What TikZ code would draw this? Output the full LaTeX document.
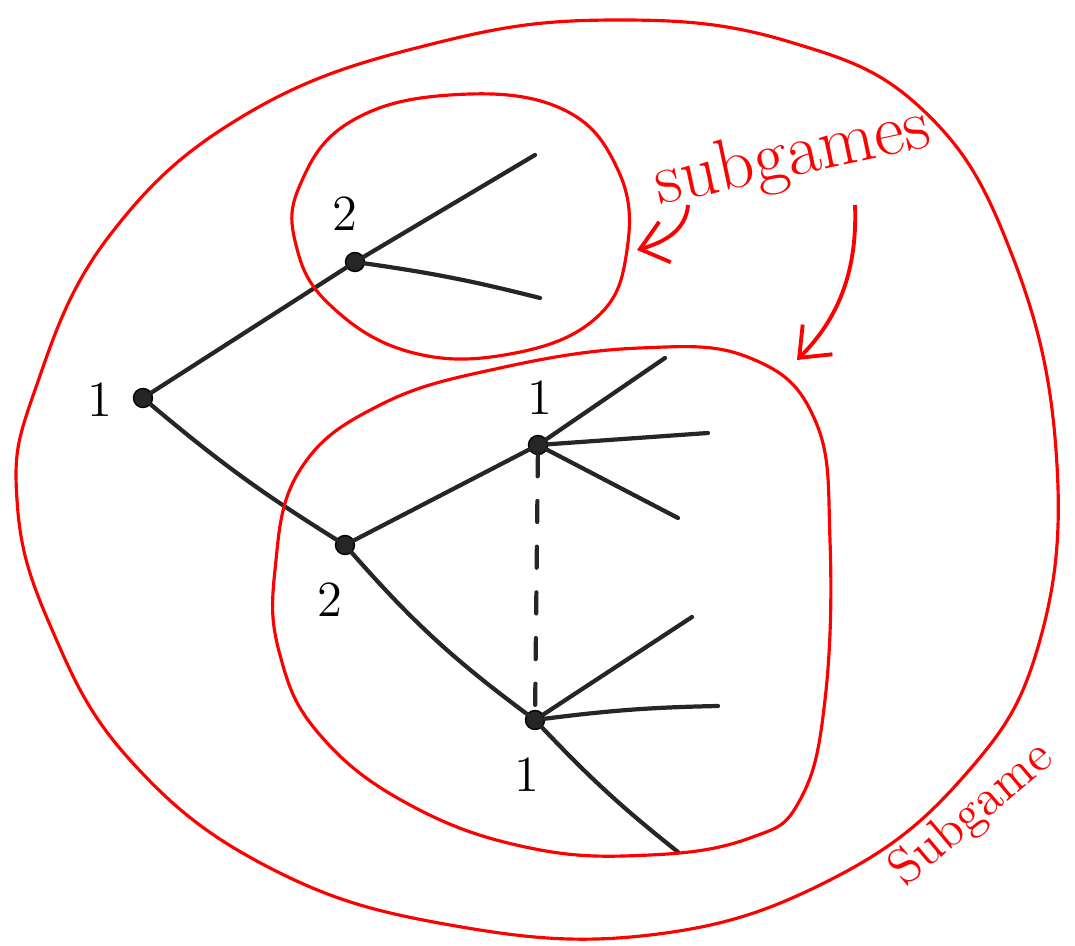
\documentclass[tikz,border=0pt]{standalone}
\usetikzlibrary{arrows.meta}
\begin{document}
\begin{tikzpicture}[x=0.01cm, y=-0.01cm,
  move/.style={black!85, line width=1.2pt, line cap=round},
  info/.style={move, dash pattern=on 6pt off 7pt},
  dot/.style={circle, fill=black!85, draw=black, inner sep=0pt, minimum size=0.19cm},
  player/.style={font=\Large},
  region/.style={red, line width=0.9pt},
  tag/.style={text=red, font=\huge},
  hint/.style={red, line width=1.1pt, -{Straight Barb[length=2.6mm, width=4.2mm]}},
]
\useasboundingbox (0,0) rectangle (1075,946);

% Decision nodes
\node[dot] (r)  at (143,398) {};
\node[dot] (u2) at (355,262) {};
\node[dot] (l2) at (345,545) {};
\node[dot] (a1) at (538,445) {};
\node[dot] (b1) at (535,720) {};

% Player labels
\node[player] (lr)  at (100,400) {1};
\node[player] (lu2) at (345,214) {2};
\node[player] (ll2) at (330,600) {2};
\node[player] (la1) at (540,398) {1};
\node[player] (lb1) at (527,775) {1};

% Terminal ends
\coordinate (u2a) at (535,155);
\coordinate (u2b) at (540,298);
\coordinate (a1a) at (665,358);
\coordinate (a1b) at (708,433);
\coordinate (a1c) at (678,518);
\coordinate (b1a) at (692,617);
\coordinate (b1b) at (718,706);
\coordinate (b1c) at (678,852);

% Branches
\draw[move] (r) -- (u2);
\draw[move] (r) to[bend right=4] (l2);
\draw[move] (u2) -- (u2a);
\draw[move] (u2) to[bend left=3] (u2b);
\draw[move] (l2) -- (a1);
\draw[move] (l2) to[bend right=6] (b1);
\draw[move] (a1) -- (a1a);
\draw[move] (a1) -- (a1b);
\draw[move] (a1) -- (a1c);
\draw[move] (b1) -- (b1a);
\draw[move] (b1) to[bend left=3] (b1b);
\draw[move] (b1) to[bend right=4] (b1c);

% Information set
\draw[info] (a1) -- (b1);

% Subgame outlines
\draw[region] plot[smooth cycle, tension=0.7] coordinates {
  (300,185) (350,122) (450,95) (560,108) (618,170) (627,250)
  (596,318) (510,354) (410,352) (330,305) (296,245)};
\draw[region] plot[smooth cycle, tension=0.7] coordinates {
  (275,570) (300,470) (380,405) (500,368) (640,348) (750,358)
  (815,420) (830,540) (825,700) (800,800) (750,838) (650,855)
  (530,848) (410,805) (320,735) (280,655)};
\draw[region] plot[smooth cycle, tension=0.7] coordinates {
  (35,390) (110,235) (250,112) (440,42) (620,20) (790,42)
  (925,112) (1012,255) (1056,450) (1040,640) (965,775) (830,880)
  (650,935) (450,925) (270,868) (130,760) (50,625) (17,500)};

% Labels
\node[tag, rotate=12] (t1) at (793,158) {subgames};
\node[tag, rotate=40, font=\Large] (t2) at (972,815) {Subgame};

% Pointers
\coordinate (h1s) at (688,205);
\coordinate (h1e) at (637,250);
\coordinate (h2s) at (855,205);
\coordinate (h2e) at (797,360);
\draw[hint] (h1s) .. controls (686,230) and (665,242) .. (h1e);
\draw[hint] (h2s) .. controls (858,280) and (832,325) .. (h2e);

\end{tikzpicture}
\end{document}
